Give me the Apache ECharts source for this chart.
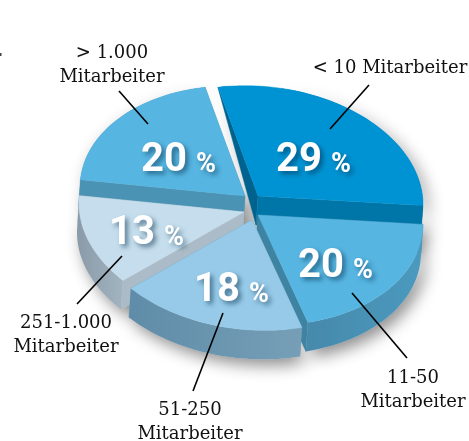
<!DOCTYPE html>
<html>
<head>
<meta charset="utf-8">
<script src="https://cdn.jsdelivr.net/npm/echarts@6/dist/echarts.min.js"></script>
<style>
  html, body { margin: 0; padding: 0; background: #fff; }
  #chart-container { width: 469px; height: 441px; }
</style>
</head>
<body>
<div id="chart-container"></div>
<script>
// Chart data
const categories = ['< 10 Mitarbeiter', '11-50\nMitarbeiter', '51-250\nMitarbeiter', '251-1.000\nMitarbeiter', '> 1.000\nMitarbeiter'];
const values = [29, 20, 18, 13, 20];

// Look of the slices
const topColors = ['#0093d3', '#56b5e1', '#96cae8', '#c5ddec', '#56b5e1'];
const rimLeftColors = ['#0076a8', '#4689ab', '#5f8ca8', '#8a9aa8', '#4a93b4'];
const rimRightColors = ['#0076a8', '#4b9abf', '#769fb7', '#a3b4c1', '#4a93b4'];
const startCutColors = ['#00628f', '#3f83a3', '#6e99b2', '#abbcc8', '#4a93b4'];
const endCutColors = ['#0076a8', '#3f83a3', '#6e99b2', '#abbcc8', '#4a93b4'];

// Layout of the exploded pie
const apexes = [[258, 196], [258, 215], [252, 220], [244, 212], [245, 196]];
const percentPos = [[276, 161], [298, 267], [194, 291], [109, 234], [141, 161]];
const labelPos = [[390, 68], [413, 390], [190, 422], [66, 335], [112, 65]];
const leaders = [[[369, 85], [330, 129]], [[352, 293], [407, 358]], [[223, 313], [193, 391]], [[122, 256], [77, 304]], [[119, 91], [148, 124]]];
const drawOrder = [4, 0, 3, 1, 2];
const radiusX = 165, radiusY = 110, wallHeight = 29, wallLean = -2, shear = Math.tan(3 * Math.PI / 180), startAngle = -104;

const total = values.reduce((a, b) => a + b, 0);

function angles(i) {
  let before = 0;
  for (let k = 0; k < i; k++) before += values[k];
  return [startAngle + before / total * 360, startAngle + (before + values[i]) / total * 360];
}

// point on the rim of a slice
function rim(i, deg) {
  const t = deg * Math.PI / 180;
  const x = radiusX * Math.cos(t), y = radiusY * Math.sin(t);
  return [apexes[i][0] + x, apexes[i][1] + y + x * shear];
}

// the wall gets lower towards the back of the pie
function wall(deg) {
  return wallHeight * (1 + Math.min(0, Math.sin(deg * Math.PI / 180)));
}

function buildSlice(i) {
  const [a0, a1] = angles(i);
  const steps = Math.ceil((a1 - a0) / 2);
  const arc = [], lowArc = [];
  for (let s = 0; s <= steps; s++) {
    const deg = a0 + (a1 - a0) * s / steps;
    const p = rim(i, deg);
    const h = wall(deg);
    arc.push(p);
    lowArc.push([p[0] + wallLean * h / wallHeight, p[1] + h]);
  }
  return { apex: apexes[i], arc, lowArc, lowApex: [apexes[i][0] + wallLean, apexes[i][1] + wallHeight] };
}

function poly(points, fill) {
  return { type: 'polygon', shape: { points }, style: { fill, stroke: fill, lineWidth: 0.4 } };
}

function renderShadow(params) {
  const s = buildSlice(drawOrder[params.dataIndex]);
  return {
    type: 'polygon',
    shape: { points: [s.apex].concat(s.arc, s.lowArc.slice().reverse(), [s.lowApex]) },
    style: { fill: '#e2e2e2', shadowBlur: 16, shadowColor: 'rgba(0,0,0,0.45)', shadowOffsetX: 5, shadowOffsetY: 6 }
  };
}

function renderSlice(params) {
  const i = drawOrder[params.dataIndex];
  const s = buildSlice(i);
  const last = s.arc.length - 1;
  const rimFill = new echarts.graphic.LinearGradient(0, 0, 1, 0, [
    { offset: 0, color: rimLeftColors[i] },
    { offset: 1, color: rimRightColors[i] }
  ]);
  return {
    type: 'group',
    children: [
      poly([s.apex, s.arc[0], s.lowArc[0], s.lowApex], startCutColors[i]),
      poly([s.apex, s.arc[last], s.lowArc[last], s.lowApex], endCutColors[i]),
      { type: 'polygon', shape: { points: s.arc.concat(s.lowArc.slice().reverse()) }, style: { fill: rimFill } },
      poly([s.apex].concat(s.arc), topColors[i])
    ]
  };
}

function renderText(params, api) {
  const i = params.dataIndex;
  const shadow = { fontFamily: 'Roboto', fontWeight: 'bold', fill: '#fff', textShadowColor: 'rgba(0,40,70,0.55)', textShadowBlur: 5, textShadowOffsetX: 3, textShadowOffsetY: 3 };
  return {
    type: 'group',
    children: [
      {
        type: 'text',
        style: {
          x: percentPos[i][0], y: percentPos[i][1],
          verticalAlign: 'middle',
          text: '{n|' + api.value(0) + '}{p|%}',
          rich: {
            n: Object.assign({ fontSize: 40 }, shadow),
            p: Object.assign({ fontSize: 27, padding: [8, 0, 0, 9] }, shadow)
          }
        }
      },
      {
        type: 'polyline',
        shape: { points: leaders[i] },
        style: { stroke: '#000', lineWidth: 1.6, fill: null }
      },
      {
        type: 'text',
        style: {
          x: labelPos[i][0], y: labelPos[i][1],
          text: categories[i],
          align: 'center', verticalAlign: 'middle',
          fontFamily: 'DejaVu Serif', fontSize: 18, lineHeight: 24, fill: '#111'
        }
      }
    ]
  };
}

const chartContainer = document.getElementById('chart-container');
const myChart = echarts.init(chartContainer);

const option = {
  backgroundColor: '#fff',
  animation: false,
  // little speck on the left edge of the original
  graphic: [{ type: 'rect', shape: { x: 0, y: 53, width: 1.5, height: 3 }, style: { fill: '#444' } }],
  series: [
    { type: 'custom', coordinateSystem: 'none', silent: true, renderItem: renderShadow, data: drawOrder.map(i => values[i]) },
    { type: 'custom', coordinateSystem: 'none', silent: true, renderItem: renderSlice, data: drawOrder.map(i => values[i]) },
    { type: 'custom', coordinateSystem: 'none', silent: true, renderItem: renderText, data: values }
  ]
};

myChart.setOption(option);
</script>
</body>
</html>
